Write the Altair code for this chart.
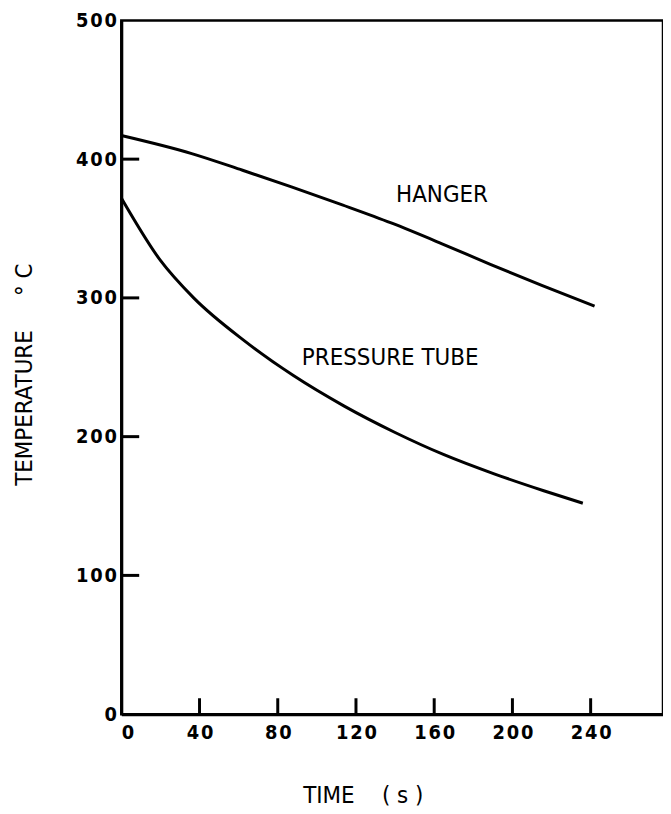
import altair as alt
import pandas as pd

# ---- data ----
hanger_t = [0, 36, 62, 87, 113, 138, 164, 189, 215, 242]
hanger_v = [417, 404, 392, 380, 367, 354, 339, 324, 309, 294]

tube_t = [0, 20, 37, 63, 88, 114, 140, 165, 191, 216, 236]
tube_v = [372, 327, 300, 269, 244, 222, 203, 187, 173, 161, 152]

x_ticks = [0, 40, 80, 120, 160, 200, 240]
y_ticks = [0, 100, 200, 300, 400, 500]
x_inner_ticks = [40, 80, 120, 160, 200, 240]
y_inner_ticks = [100, 200, 300, 400]

label_text = ["HANGER", "PRESSURE TUBE"]
label_t = [164, 137.5]
label_v = [374, 257]

# ---- tables ----
curves = pd.concat([
    pd.DataFrame({"t": hanger_t, "v": hanger_v, "s": "HANGER"}),
    pd.DataFrame({"t": tube_t, "v": tube_v, "s": "PRESSURE TUBE"}),
])
labels = pd.DataFrame({"text": label_text, "t": label_t, "v": label_v})
xt = pd.DataFrame({"t": x_inner_ticks})
yt = pd.DataFrame({"v": y_inner_ticks})

W, H = 545, 698
xscale = alt.Scale(domain=[0, 277], nice=False, zero=False)
yscale = alt.Scale(domain=[0, 500], nice=False)

TICK_FONT = "DejaVu Sans Condensed, sans-serif"
TITLE_FONT = "DejaVu Sans Condensed, sans-serif"
spaced = "join(split(toString(datum.value), ''), '\u200a')"

x_axis = alt.Axis(
    values=x_ticks, labelExpr=spaced, ticks=False, grid=False,
    domainColor="black", domainWidth=3,
    labelFont=TICK_FONT, labelFontSize=20, labelFontWeight="bold",
    labelColor="black", labelPadding=8,
    title="TIME\u00a0\u00a0\u00a0\u00a0(\u00a0s\u00a0)", titleFont=TITLE_FONT,
    titleFontSize=24, titleFontWeight="normal", titleColor="black",
    titleX=243, titleY=89, titleBaseline="alphabetic", titleAlign="center",
)
y_axis = alt.Axis(
    values=y_ticks, labelExpr=spaced, ticks=False, grid=False,
    domainColor="black", domainWidth=3,
    labelFont=TICK_FONT, labelFontSize=20, labelFontWeight="bold",
    labelColor="black", labelPadding=5,
    title="TEMPERATURE\u00a0\u00a0\u00a0\u00a0\u00a0°\u00a0C", titleFont=TITLE_FONT,
    titleFontSize=24, titleFontWeight="normal", titleColor="black",
    titleAngle=270, titleX=-90, titleY=356, titleBaseline="alphabetic",
    titleAlign="center",
)

lines = alt.Chart(curves).mark_line(
    color="black", strokeWidth=3, interpolate="monotone"
).encode(
    x=alt.X("t:Q", scale=xscale, axis=x_axis),
    y=alt.Y("v:Q", scale=yscale, axis=y_axis),
    detail="s:N",
)

xtick_rules = alt.Chart(xt).mark_rule(color="black", strokeWidth=3).encode(
    x=alt.X("t:Q", scale=xscale),
    y=alt.value(H),
    y2=alt.value(H - 16),
)
ytick_rules = alt.Chart(yt).mark_rule(color="black", strokeWidth=3).encode(
    y=alt.Y("v:Q", scale=yscale),
    x=alt.value(0),
    x2=alt.value(18),
)

texts = alt.Chart(labels).mark_text(
    font=TITLE_FONT, fontSize=24, color="black", align="center", baseline="middle"
).encode(
    x=alt.X("t:Q", scale=xscale),
    y=alt.Y("v:Q", scale=yscale),
    text="text:N",
)

chart = alt.layer(lines, xtick_rules, ytick_rules, texts).properties(
    width=W, height=H,
    autosize=alt.AutoSizeParams(type="none"),
    padding={"left": 114, "top": 10, "right": 0, "bottom": 98},
    background="white",
).configure_view(stroke="black", strokeWidth=2.5)

chart.save("out.html", embed_options={"renderer": "svg", "actions": False})
